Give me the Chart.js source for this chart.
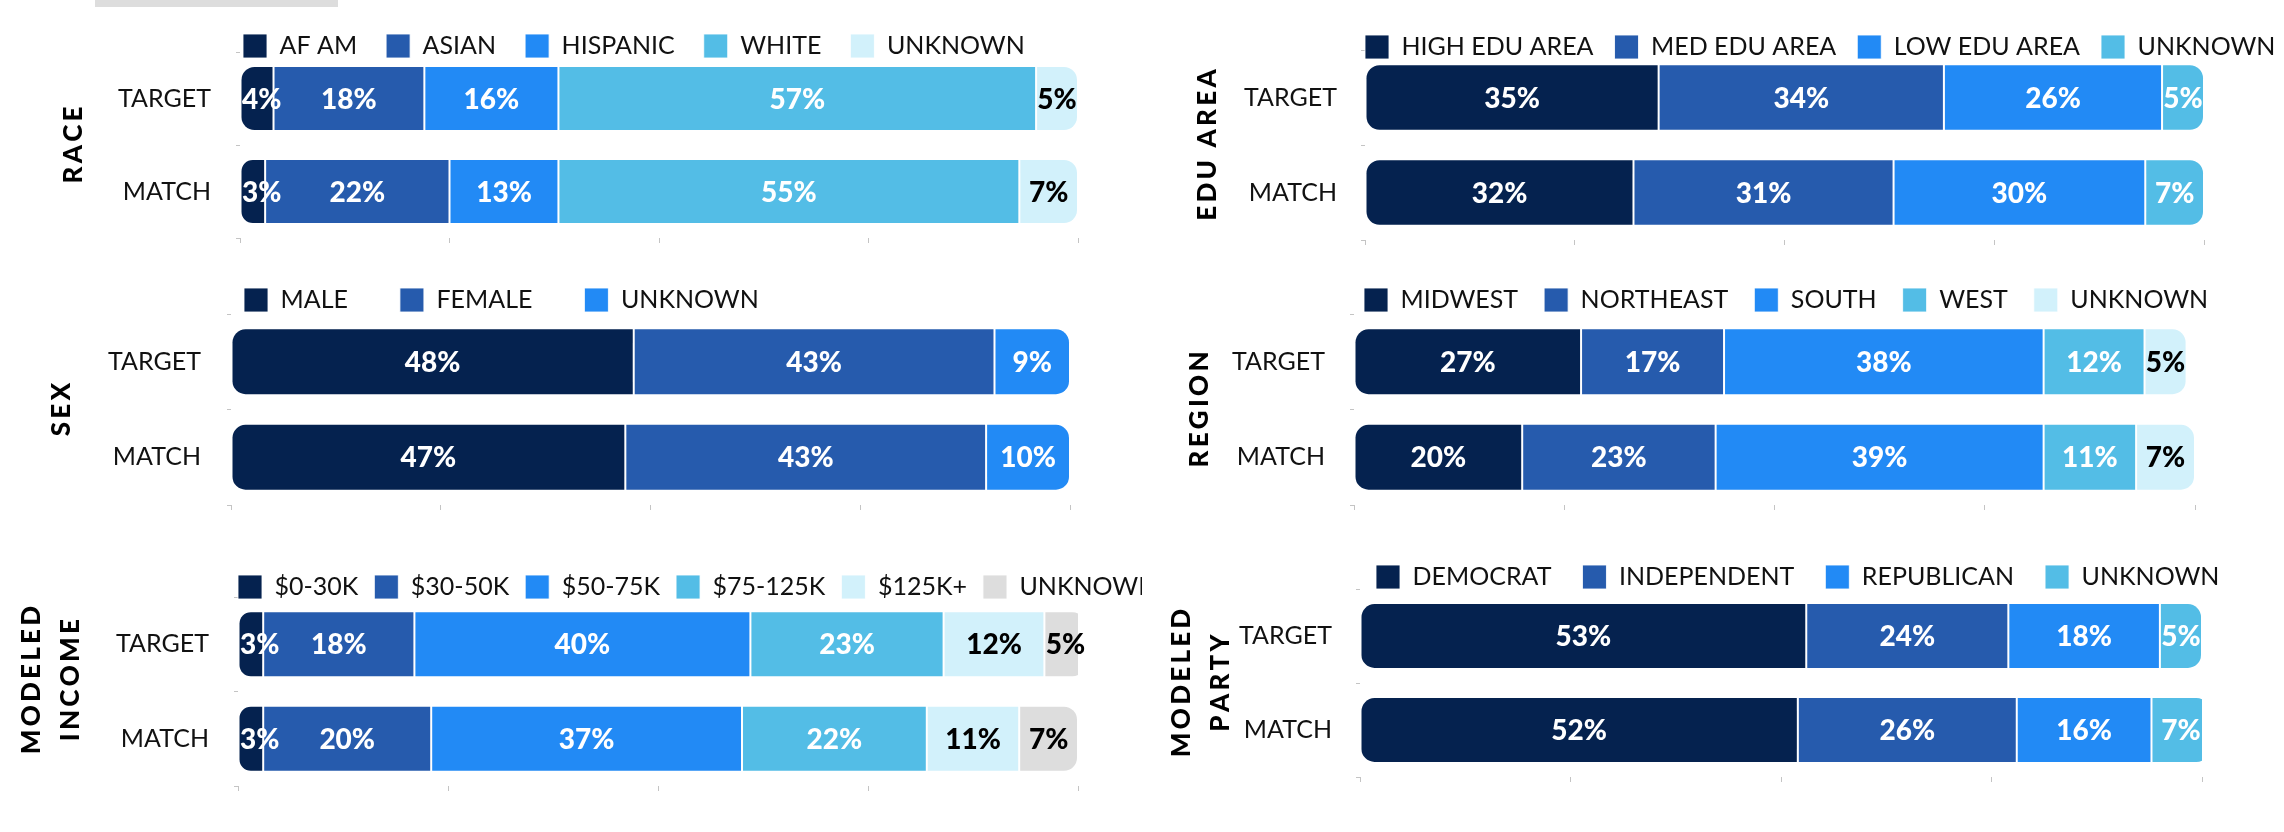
<!DOCTYPE html>
<html lang="en-US">
<head>
<meta charset="UTF-8">
<title>Target vs Match</title>
<script src="https://cdn.jsdelivr.net/npm/chart.js@4.4.1/dist/chart.umd.min.js"></script>
<style>
    html, body { margin: 0; padding: 0; background: #fff; }
    body { width: 2284px; height: 832px; position: relative; overflow: hidden; }
    .tab { position: absolute; left: 95px; top: 0; width: 243px; height: 7px; background: #dddddd; }
    .box { position: absolute; }
</style>
</head>
<body>
<div class="tab"></div>
<div class="box" id="b-race"><canvas id="race"></canvas></div>
<div class="box" id="b-edu"><canvas id="edu"></canvas></div>
<div class="box" id="b-sex"><canvas id="sex"></canvas></div>
<div class="box" id="b-region"><canvas id="region"></canvas></div>
<div class="box" id="b-income"><canvas id="income"></canvas></div>
<div class="box" id="b-party"><canvas id="party"></canvas></div>

<script>
    // data
    const rowLabels = ['TARGET', 'MATCH'];

    const raceCats = ['AF AM', 'ASIAN', 'HISPANIC', 'WHITE', 'UNKNOWN'];
    const raceTarget = [4, 18, 16, 57, 5];
    const raceMatch = [3, 22, 13, 55, 7];

    const sexCats = ['MALE', 'FEMALE', 'UNKNOWN'];
    const sexTarget = [48, 43, 9];
    const sexMatch = [47, 43, 10];

    const incomeCats = ['$0-30K', '$30-50K', '$50-75K', '$75-125K', '$125K+', 'UNKNOWN'];
    const incomeTarget = [3, 18, 40, 23, 12, 5];
    const incomeMatch = [3, 20, 37, 22, 11, 7];

    const eduCats = ['HIGH EDU AREA', 'MED EDU AREA', 'LOW EDU AREA', 'UNKNOWN'];
    const eduTarget = [35, 34, 26, 5];
    const eduMatch = [32, 31, 30, 7];

    const regionCats = ['MIDWEST', 'NORTHEAST', 'SOUTH', 'WEST', 'UNKNOWN'];
    const regionTarget = [27, 17, 38, 12, 5];
    const regionMatch = [20, 23, 39, 11, 7];

    const partyCats = ['DEMOCRAT', 'INDEPENDENT', 'REPUBLICAN', 'UNKNOWN'];
    const partyTarget = [53, 24, 18, 5];
    const partyMatch = [52, 26, 16, 7];

    // styles
    const NAVY = '#05224f', MED = '#265bad', BRIGHT = '#228af5', CYAN = '#53bde6', LIGHT = '#d2f1fb', GREY = '#dddddd';
    const palette = [NAVY, MED, BRIGHT, CYAN, LIGHT, GREY];
    const darkText = [LIGHT, GREY];
    const HEAVY = '"Lato Black", Lato, "Noto Sans", sans-serif';
    const COL_W = 1142, LEGEND_H = 10, X_TICK = 5, Y_TICK = 4, RADIUS = 14;

    // where each small chart sits (page pixels); lift = leading space that nudges the axis title up
    const layoutSpec = {
        race:   { col: 0, band: [0, 265],   L: 240,  R: 1078, top: 52,  bottom: 238, title: ['RACE'],             titleX: 74,   labelRight: 211,  legendX: 243,  legendY: 46,  gap: 29 },
        edu:    { col: 1, band: [0, 265],   L: 1365, R: 2204, top: 50,  bottom: 240, title: ['EDU AREA'],         titleX: 1208, labelRight: 1337, legendX: 1365, legendY: 47,  gap: 21 },
        sex:    { col: 0, band: [265, 530], L: 231,  R: 1070, top: 314, bottom: 505, title: ['SEX'],              titleX: 62,   labelRight: 201,  legendX: 244,  legendY: 300, gap: 52 },
        region: { col: 1, band: [265, 530], L: 1354, R: 2195, top: 314, bottom: 505, title: ['REGION'],           titleX: 1200, labelRight: 1325, legendX: 1364, legendY: 300, gap: 26 },
        income: { col: 0, band: [530, 832], L: 238,  R: 1078, top: 597, bottom: 786, title: ['MODELED', 'INCOME'], titleX: 32,  labelRight: 209,  legendX: 238,  legendY: 587, gap: 16, lift: '\u2003\u2009' },
        party:  { col: 1, band: [530, 832], L: 1360, R: 2202, top: 589, bottom: 777, title: ['MODELED', 'PARTY'],  titleX: 1182, labelRight: 1332, legendX: 1376, legendY: 577, gap: 31 }
    };

    Chart.defaults.font.family = 'Lato, "Noto Sans", sans-serif';

    function spaced(s) {
        return s.split('').join('\u2009');
    }

    // move the legend so it starts at the bar edge and never wraps
    const legendPlace = {
        id: 'legendPlace',
        afterLayout(chart, args, opts) {
            const lg = chart.legend;
            if (!lg) return;
            const pad = lg.options.labels.padding;
            const itemTop = opts.y - 12.5;
            lg.left = opts.x - pad;
            lg.right = chart.width + 2000;
            lg.width = lg.right - lg.left;
            lg.top = itemTop - pad;
            lg.bottom = itemTop + 40;
            lg.height = lg.bottom - lg.top;
        }
    };

    // percentage labels inside the segments
    const barText = {
        id: 'barText',
        afterDatasetsDraw(chart) {
            const ctx = chart.ctx;
            const area = chart.chartArea;
            ctx.save();
            ctx.font = '900 28px ' + HEAVY;
            ctx.textAlign = 'center';
            ctx.textBaseline = 'middle';
            chart.data.datasets.forEach(function (ds, i) {
                chart.getDatasetMeta(i).data.forEach(function (bar, j) {
                    const txt = ds.data[j] + '%';
                    const w = ctx.measureText(txt).width;
                    let cx = (bar.x + bar.base) / 2;
                    cx = Math.max(cx, area.left + 2 + w / 2);
                    ctx.fillStyle = darkText.includes(ds.backgroundColor) ? '#000' : '#fff';
                    ctx.fillText(txt, cx, bar.y + 1);
                });
            });
            ctx.restore();
        }
    };

    function build(id, cats, target, match) {
        const s = layoutSpec[id];
        const x0 = s.col * COL_W, y0 = s.band[0], h = s.band[1] - s.band[0];
        const box = document.getElementById('b-' + id);
        box.style.left = x0 + 'px';
        box.style.top = y0 + 'px';
        box.style.width = COL_W + 'px';
        box.style.height = h + 'px';

        const last = cats.length - 1;
        const datasets = cats.map(function (name, i) {
            return {
                label: name,
                data: [target[i], match[i]],
                backgroundColor: palette[i],
                borderColor: 'rgba(255,255,255,0.85)',
                borderWidth: 1,
                borderSkipped: false,
                borderRadius: {
                    topLeft: i === 0 ? RADIUS : 0, bottomLeft: i === 0 ? RADIUS : 0,
                    topRight: i === last ? RADIUS : 0, bottomRight: i === last ? RADIUS : 0
                },
                barPercentage: 0.7,
                categoryPercentage: 1
            };
        });

        const lift = s.lift || '';

        new Chart(document.getElementById(id), {
            type: 'bar',
            data: { labels: rowLabels, datasets: datasets },
            options: {
                indexAxis: 'y',
                responsive: true,
                maintainAspectRatio: false,
                animation: false,
                layout: {
                    padding: { left: 0, right: x0 + COL_W - s.R, top: s.top - y0 - LEGEND_H, bottom: s.band[1] - s.bottom - X_TICK }
                },
                plugins: {
                    legend: {
                        align: 'start',
                        maxHeight: LEGEND_H,
                        labels: { boxWidth: 24, boxHeight: 24, padding: s.gap, color: '#111', font: { size: 25 } }
                    },
                    tooltip: { enabled: false },
                    legendPlace: { x: s.legendX - x0, y: s.legendY - y0 }
                },
                scales: {
                    x: {
                        stacked: true, min: 0, max: 100,
                        ticks: { display: false, stepSize: 25 },
                        grid: { drawOnChartArea: false, tickLength: X_TICK, color: '#c4c4c4' },
                        border: { display: false }
                    },
                    y: {
                        stacked: true,
                        ticks: { color: '#111', font: { size: 25 }, padding: s.L - Y_TICK - s.labelRight },
                        grid: { drawOnChartArea: false, tickLength: Y_TICK, color: '#c4c4c4' },
                        border: { display: false },
                        title: {
                            display: true,
                            text: s.title.map(function (t) { return lift + spaced(t); }),
                            color: '#000',
                            font: { size: 26, weight: '900', family: HEAVY, lineHeight: 1.5 },
                            padding: { top: s.titleX - x0 - 19.5, bottom: 0 }
                        },
                        afterFit: function (sc) {
                            sc.width = s.L - x0;
                            sc.paddingTop = 0;
                            sc.paddingBottom = 0;
                        }
                    }
                }
            },
            plugins: [legendPlace, barText]
        });
    }

    build('race', raceCats, raceTarget, raceMatch);
    build('edu', eduCats, eduTarget, eduMatch);
    build('sex', sexCats, sexTarget, sexMatch);
    build('region', regionCats, regionTarget, regionMatch);
    build('income', incomeCats, incomeTarget, incomeMatch);
    build('party', partyCats, partyTarget, partyMatch);
</script>
</body>
</html>
